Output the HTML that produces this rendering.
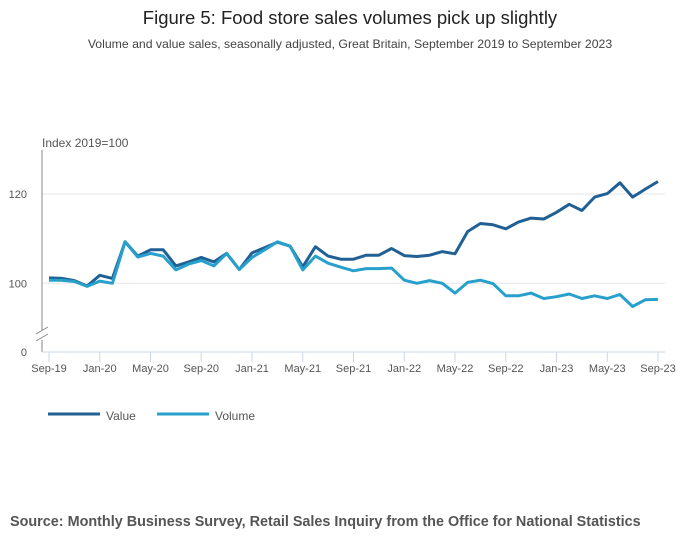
<!DOCTYPE html>
<html><head><meta charset="utf-8"><style>
body{margin:0;background:#fff;font-family:"Liberation Sans",sans-serif}
svg text{font-family:"Liberation Sans",sans-serif}
</style></head><body>
<svg id="c" width="700" height="549">
<text x="350" y="24" text-anchor="middle" font-size="18.5" fill="#222">Figure 5: Food store sales volumes pick up slightly</text>
<text x="350" y="48" text-anchor="middle" font-size="12.25" fill="#444">Volume and value sales, seasonally adjusted, Great Britain, September 2019 to September 2023</text>
<text x="42" y="147" font-size="12" fill="#555">Index 2019=100</text>
<g id="grid"></g>
<line x1="42" y1="150" x2="42" y2="330" stroke="#888"/>
<line x1="42" y1="340" x2="42" y2="352" stroke="#888"/>
<line x1="36" y1="334" x2="48" y2="327" stroke="#888"/>
<line x1="36" y1="341" x2="48" y2="334" stroke="#888"/>
<text x="27" y="356" text-anchor="end" font-size="11" fill="#555">0</text>
<line x1="42" y1="352" x2="665" y2="352" stroke="#ccd6eb"/>
<g id="xt"></g><g id="lines"></g>
<line x1="48" y1="414" x2="100" y2="414" stroke="#206095" stroke-width="3"/>
<text x="106" y="420" font-size="12" fill="#555">Value</text>
<line x1="157" y1="414" x2="209" y2="414" stroke="#27a0cc" stroke-width="3"/>
<text x="215" y="420" font-size="12" fill="#555">Volume</text>
<text x="10" y="526" font-size="14.4" font-weight="bold" fill="#555">Source: Monthly Business Survey, Retail Sales Inquiry from the Office for National Statistics</text>
</svg>
<script>
const yTicks=[100,120];
const xTickLabels=["Sep-19","Jan-20","May-20","Sep-20","Jan-21","May-21","Sep-21","Jan-22","May-22","Sep-22","Jan-23","May-23","Sep-23"];
const valueSeries=[101.2,101.1,100.6,99.4,101.8,101.1,109.3,106.1,107.5,107.5,103.9,104.8,105.8,104.8,106.7,103.1,106.8,108.0,109.2,108.3,103.7,108.2,106.1,105.4,105.4,106.3,106.3,107.8,106.2,106.0,106.3,107.1,106.6,111.6,113.4,113.1,112.2,113.7,114.6,114.4,115.9,117.7,116.3,119.3,120.1,122.5,119.3,121.1,122.8];
const volumeSeries=[100.7,100.7,100.4,99.3,100.5,100.0,109.3,105.9,106.7,106.1,103.0,104.3,105.1,103.9,106.7,103.1,105.8,107.5,109.3,108.3,103.0,106.1,104.5,103.6,102.8,103.3,103.3,103.4,100.7,100.0,100.6,100.0,97.8,100.2,100.7,99.9,97.2,97.2,97.8,96.6,97.0,97.6,96.6,97.2,96.6,97.5,94.8,96.3,96.4];
const NS='http://www.w3.org/2000/svg';
const x=i=>49+i*(658-49)/48;
const y=v=>283.3-(v-100)*(283.3-194)/20;
function mk(t,a,p){const e=document.createElementNS(NS,t);for(const k in a)e.setAttribute(k,a[k]);p.appendChild(e);return e;}
const g=document.getElementById('grid');
yTicks.forEach(v=>{
 const l=mk('line',{x1:42,x2:665,y1:y(v),y2:y(v),stroke:'#e6e6e6'},g);
 
 
 const t=mk('text',{x:27,y:y(v)+4,'text-anchor':'end','font-size':11,fill:'#555'},g);t.textContent=v;
 
 
});
const xt=document.getElementById('xt');
xTickLabels.forEach((s,k)=>{
 const xx=x(k*4);
 mk('line',{x1:xx,x2:xx,y1:352,y2:362,stroke:'#ccd6eb'},xt);
 const t=mk('text',{x:xx,y:372,'text-anchor':'middle','font-size':11,fill:'#555'},xt);t.textContent=s;
 
 
});
const L=document.getElementById('lines');
[[valueSeries,'#206095','value-line'],[volumeSeries,'#27a0cc','volume-line']].forEach(([d,c,n])=>{
 const p=mk('path',{d:d.map((v,i)=>(i?'L':'M')+x(i).toFixed(1)+','+y(v).toFixed(1)).join(''),fill:'none',stroke:c,'stroke-width':3,'stroke-linejoin':'round'},L);
 
 
});
</script>
</body></html>
